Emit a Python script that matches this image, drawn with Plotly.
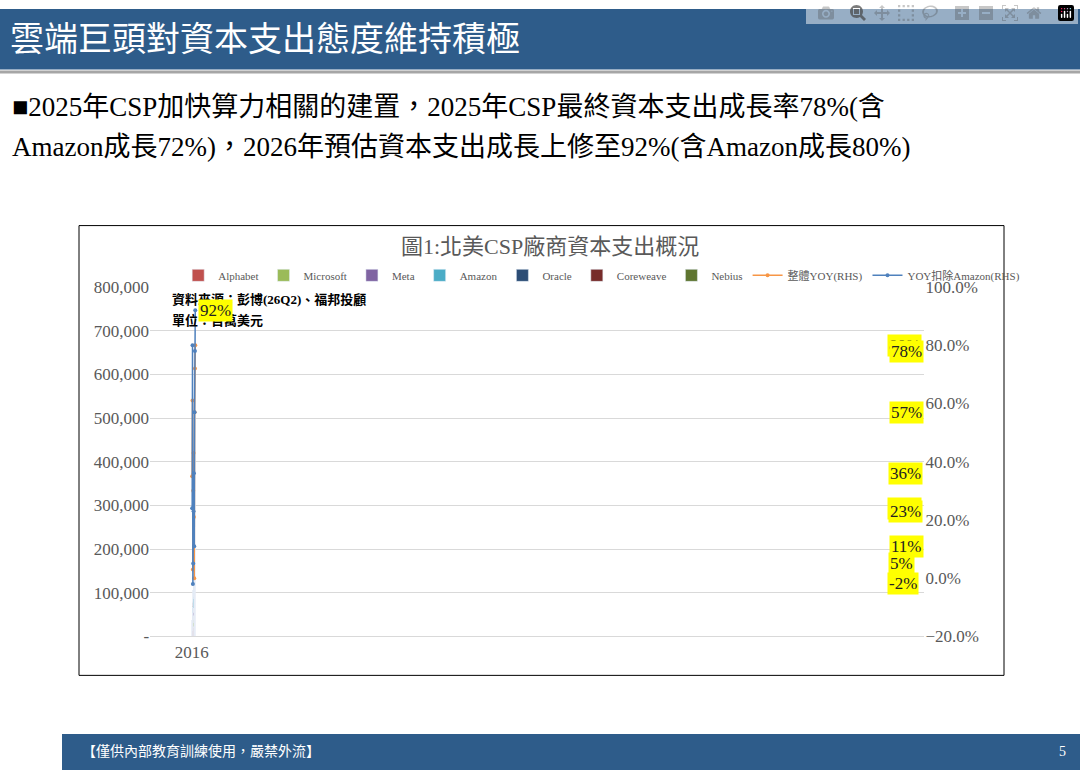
import plotly.graph_objects as go

years = ["2016", "2017", "2018", "2019", "2020", "2021", "2022", "2023", "2024", "2025", "2026F"]
alphabet = [9600, 12600, 24400, 22000, 20000, 22000, 31000, 31000, 52000, 89000, 184000]
microsoft = [7400, 8000, 14000, 12600, 18500, 25000, 24400, 35000, 53000, 83000, 158000]
meta = [4400, 6000, 13300, 17000, 15500, 17000, 31000, 27000, 38000, 71000, 102000]
amazon = [9600, 12600, 14800, 17000, 35500, 61500, 61500, 52000, 83000, 130000, 200000]
oracle = [1000, 1000, 1000, 1000, 1000, 3700, 7400, 9600, 10000, 35500, 60000]
coreweave = [4400, 11800, 10400, 35500, 39000, 0, 0, 0, 0, 0, 0]
nebius = [1000, 1000, 1000, 1000, 1500, 1500, 2000, 2000, 23700, 26700, 0]
yoy_total = [None, 35, 61, 3, 30, 43, 21, 0, 57, 72, 80]
yoy_ex_amzn = [None, 24, 80, -2, 5, 23, 36, 11, 57, 78, 92]
label_text = [None, "24%", "80%", "-2%", "5%", "23%", "36%", "11%", "57%", "78%", "92%"]

serif = "Liberation Serif, Noto Sans CJK TC"
fig = go.Figure()
bars = [("Alphabet", alphabet, "#C0504D"), ("Microsoft", microsoft, "#9BBB59"),
        ("Meta", meta, "#8064A2"), ("Amazon", amazon, "#4BACC6"),
        ("Oracle", oracle, "#2C4D75"), ("Coreweave", coreweave, "#772C2A"),
        ("Nebius", nebius, "#5F7530")]
for name, vals, col in bars:
    fig.add_trace(go.Bar(x=years, y=vals, name=name, marker_color=col, width=0.4))
fig.add_trace(go.Scatter(x=years, y=yoy_total, name="整體YOY(RHS)", yaxis="y2", mode="lines+markers",
                         line=dict(color="#F79646", width=1.5), marker=dict(size=4)))
fig.add_trace(go.Scatter(x=years, y=yoy_ex_amzn, name="YOY扣除Amazon(RHS)", yaxis="y2", mode="lines+markers",
                         line=dict(color="#4F81BD", width=1.5), marker=dict(size=4)))

fig.update_layout(
    width=1080, height=780, margin=dict(l=0, r=0, t=0, b=0), paper_bgcolor="white", plot_bgcolor="white",
    barmode="stack", font=dict(family=serif, color="#595959"),
    xaxis=dict(domain=[0.139, 0.856], tickfont=dict(size=17), showline=True, linecolor="#d9d9d9"),
    yaxis=dict(domain=[0.1756, 0.6346], range=[0, 800000], tickfont=dict(size=17), gridcolor="#d9d9d9",
               tickvals=[0, 100000, 200000, 300000, 400000, 500000, 600000, 700000, 800000],
               ticktext=["-", "100,000", "200,000", "300,000", "400,000", "500,000", "600,000", "700,000", "800,000"]),
    yaxis2=dict(overlaying="y", side="right", range=[-20, 100], dtick=20, ticksuffix="%", tickformat=".1f",
                tickfont=dict(size=17), showgrid=False),
    legend=dict(orientation="h", x=0.165, y=1 - 273 / 780, xanchor="left", yanchor="middle", traceorder="normal",
                font=dict(size=11), bgcolor="rgba(0,0,0,0)", itemwidth=30),
    shapes=[
        dict(type="rect", xref="paper", yref="paper", x0=0, x1=1, y0=1 - 62 / 780, y1=1,
             fillcolor="#2E5C8A", line_width=0, layer="below"),
        dict(type="rect", xref="paper", yref="paper", x0=0, x1=1, y0=1 - 66 / 780, y1=1 - 63 / 780,
             fillcolor="#A6A6A6", line_width=0, layer="below"),
        dict(type="rect", xref="paper", yref="paper", x0=79 / 1080, x1=1004 / 1080, y0=1 - 683 / 780,
             y1=1 - 222 / 780, line=dict(color="black", width=1), layer="below"),
        dict(type="rect", xref="paper", yref="paper", x0=62 / 1080, x1=1080 / 1080, y0=0, y1=37 / 780,
             fillcolor="#2E5C8A", line_width=0, layer="below"),
    ],
)

texts = [
    (8, 31, "left", "雲端巨頭對資本支出態度維持積極", 34, "white"),
    (10, 100, "left", "■2025年CSP加快算力相關的建置，2025年CSP最終資本支出成長率78%(含", 27, "black"),
    (10, 141, "left", "Amazon成長72%)，2026年預估資本支出成長上修至92%(含Amazon成長80%)", 27, "black"),
    (550, 243, "center", "圖1:北美CSP廠商資本支出概況", 22, "#595959"),
    (170, 298, "left", "<b>資料來源：彭博(26Q2)、福邦投顧</b>", 13, "black"),
    (170, 319, "left", "<b>單位：百萬美元</b>", 13, "black"),
    (80, 761, "left", "【僅供內部教育訓練使用，嚴禁外流】", 14, "white"),
    (1068, 761, "right", "5", 14, "white"),
]
for px_, py_, anc, t, sz, col in texts:
    fig.add_annotation(xref="paper", yref="paper", x=px_ / 1080, y=1 - py_ / 780, xanchor=anc, yanchor="middle",
                       showarrow=False, text=t, font=dict(size=sz, color=col, family=serif))

for yr, v, t in zip(years, yoy_ex_amzn, label_text):
    if t:
        fig.add_annotation(x=yr, y=v, xref="x", yref="y2", text=t, showarrow=False, xanchor="left",
                           xshift=3, bgcolor="#FFFF00", font=dict(size=17, color="#222", family=serif))

fig.write_html("out.html", post_script="document.body.style.margin='0';")
